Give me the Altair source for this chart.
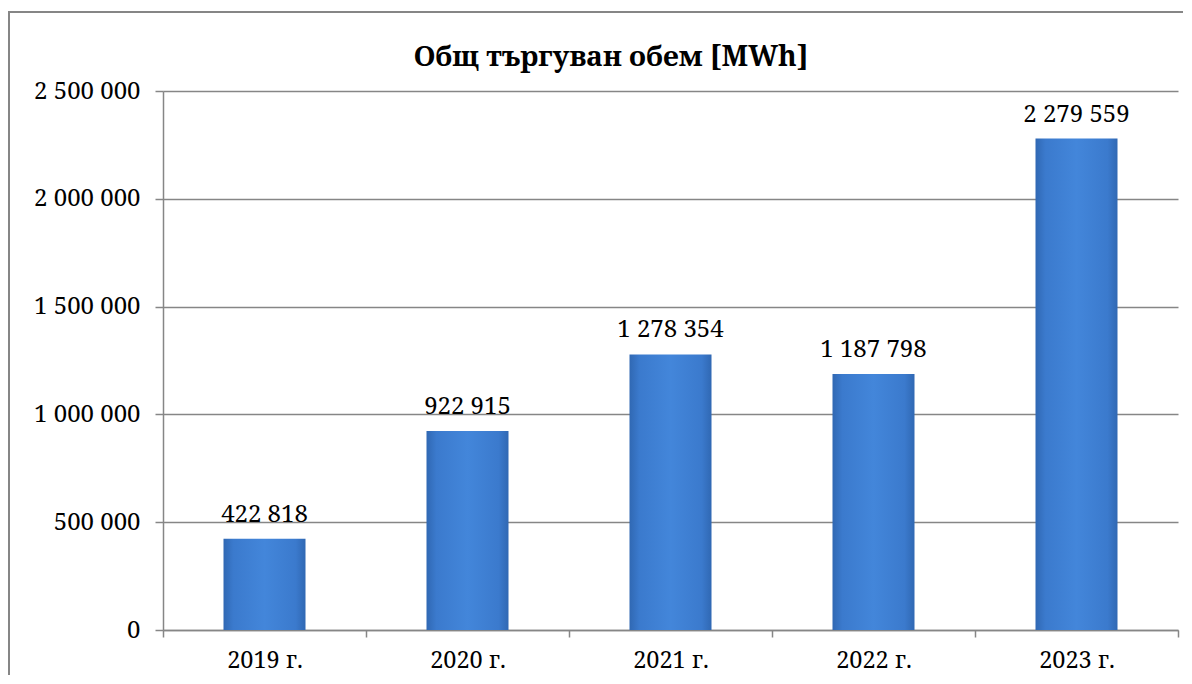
import altair as alt
import pandas as pd

years = ["2019 г.", "2020 г.", "2021 г.", "2022 г.", "2023 г."]
volumes = [422818, 922915, 1278354, 1187798, 2279559]
y_ticks = [0, 500000, 1000000, 1500000, 2000000, 2500000]
title_text = ["Общ търгуван обем [MWh]"]

df = pd.DataFrame({"year": years, "volume": volumes})

FONT = "Noto Serif"
GRAY = "#868686"

gradient = alt.LinearGradient(
    gradient="linear",
    x1=0, y1=0, x2=1, y2=0,
    stops=[
        alt.GradientStop(color="#3068b3", offset=0),
        alt.GradientStop(color="#3b7acd", offset=0.12),
        alt.GradientStop(color="#4386da", offset=0.5),
        alt.GradientStop(color="#3b7acd", offset=0.88),
        alt.GradientStop(color="#3068b3", offset=1),
    ],
)

fmt = "replace(format(datum.value, ','), regexp(',', 'g'), ' ')"

x_enc = alt.X(
    "year:N",
    sort=years,
    title=None,
    scale=alt.Scale(paddingInner=0, paddingOuter=0),
    axis=alt.Axis(
        labelAngle=0, tickBand="extent", labelFont=FONT, labelFontSize=23.5,
        labelColor="black", labelPadding=11, tickSize=7, tickColor=GRAY,
        domainColor=GRAY, domainWidth=1.5, tickWidth=1.5, grid=False,
    ),
)
y_enc = alt.Y(
    "volume:Q",
    title=None,
    scale=alt.Scale(domain=[0, 2500000], nice=False),
    axis=alt.Axis(
        values=y_ticks, labelFont=FONT, labelFontSize=24, labelColor="black",
        labelPadding=15, tickSize=8, tickColor=GRAY, domainColor=GRAY,
        domainWidth=1.5, tickWidth=1.5, gridColor=GRAY, gridWidth=1.5,
        labelExpr=fmt,
    ),
)

bars = alt.Chart(df).mark_bar(size=82, fill=gradient).encode(x=x_enc, y=y_enc)

labels = alt.Chart(df).transform_calculate(
    label="replace(format(datum.volume, ','), regexp(',', 'g'), ' ')"
).mark_text(font=FONT, fontSize=24, color="black", dy=-17, baseline="alphabetic").encode(
    x=alt.X("year:N", sort=years), y="volume:Q", text="label:N"
)

title = alt.Chart(pd.DataFrame({"t": title_text})).mark_text(
    font=FONT, fontSize=28, fontWeight="bold", color="black",
    baseline="alphabetic", align="center",
).encode(x=alt.value(448), y=alt.value(-25), text="t:N")

border = alt.Chart(pd.DataFrame({"a": [0]})).mark_rect(
    fillOpacity=0, stroke=GRAY, strokeWidth=2
).encode(
    x=alt.value(-154), x2=alt.value(1040), y=alt.value(-79), y2=alt.value(600)
)

chart = alt.layer(bars, labels, title, border).properties(
    width=1015,
    height=539,
    autosize=alt.AutoSizeParams(type="none"),
    padding={"left": 155, "top": 83, "right": 5, "bottom": 45},
).configure_view(stroke=None)

chart.save("out.html", embed_options={"renderer": "svg", "actions": False})
